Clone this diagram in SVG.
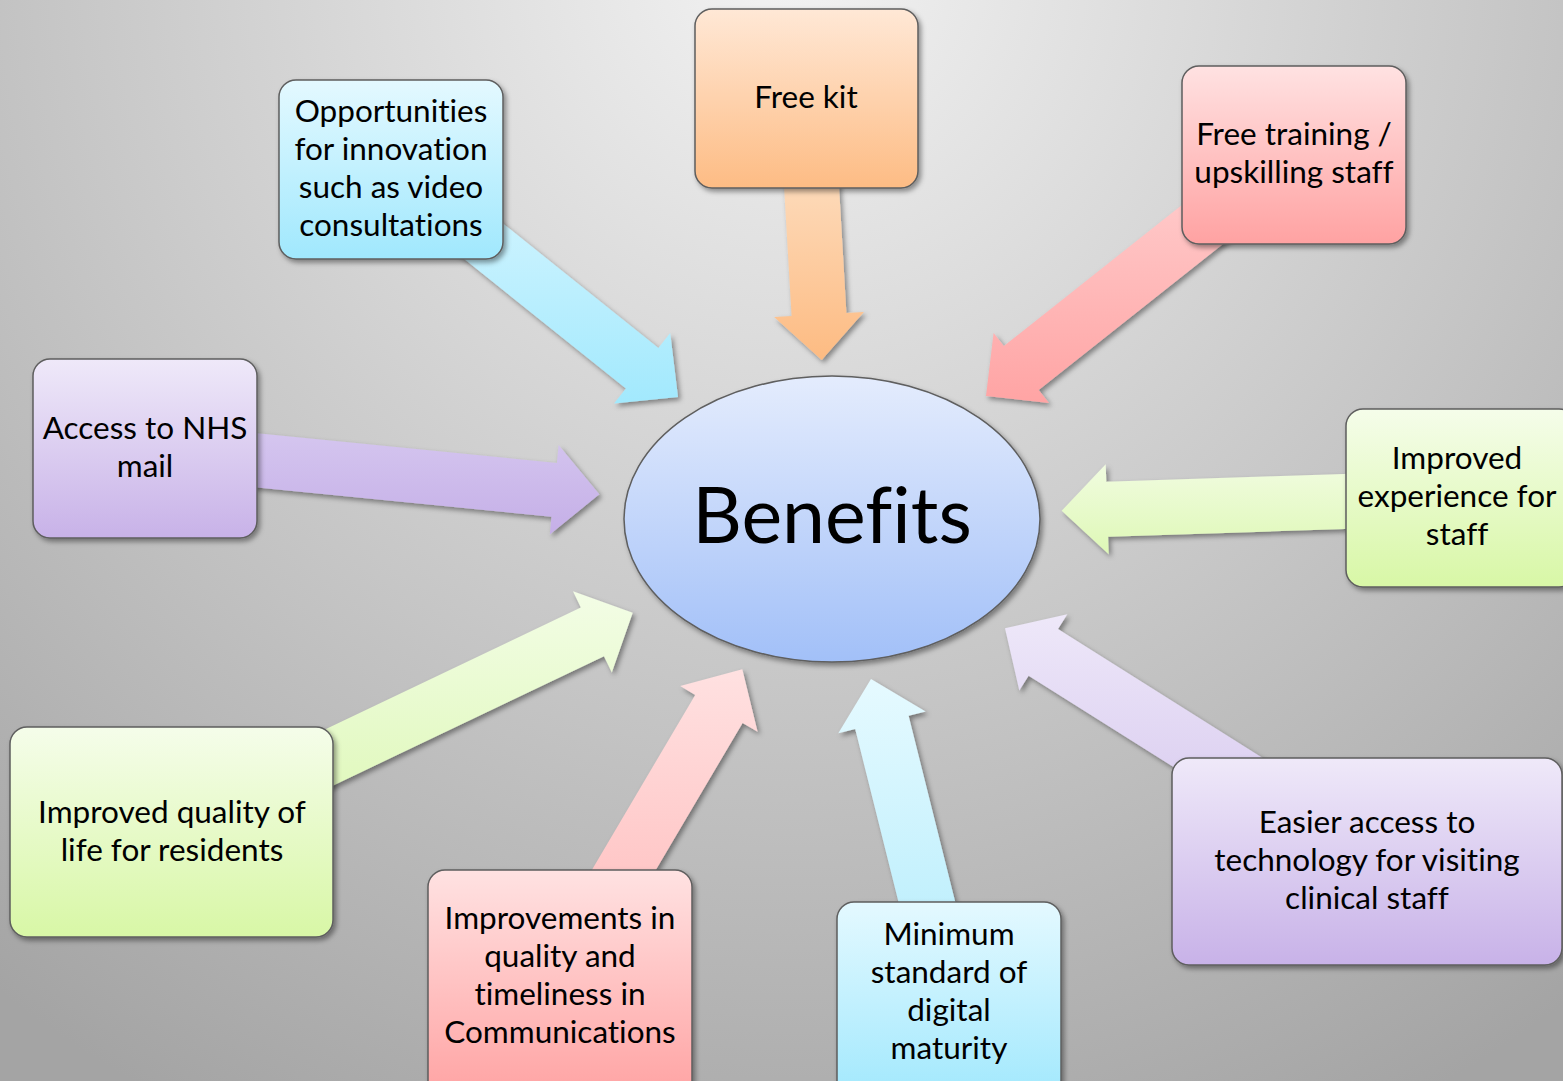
<svg xmlns="http://www.w3.org/2000/svg" width="1563" height="1081" viewBox="0 0 1563 1081">
<defs>
<radialGradient id="bg" gradientUnits="userSpaceOnUse" cx="790" cy="-40" r="1300">
<stop offset="0" stop-color="#f3f3f3"/><stop offset="1" stop-color="#a4a4a4"/>
</radialGradient>
<linearGradient id="gCyan" x1="0" y1="0" x2="0" y2="1"><stop offset="0" stop-color="#e4f9ff"/><stop offset="1" stop-color="#a0e8fd"/></linearGradient>
<linearGradient id="gOrange" x1="0" y1="0" x2="0" y2="1"><stop offset="0" stop-color="#ffe8d6"/><stop offset="1" stop-color="#fdbc84"/></linearGradient>
<linearGradient id="gPink" x1="0" y1="0" x2="0" y2="1"><stop offset="0" stop-color="#ffe2e2"/><stop offset="1" stop-color="#ffa2a2"/></linearGradient>
<linearGradient id="gPurple" x1="0" y1="0" x2="0" y2="1"><stop offset="0" stop-color="#efe9f9"/><stop offset="1" stop-color="#c8b2e8"/></linearGradient>
<linearGradient id="gGreen" x1="0" y1="0" x2="0" y2="1"><stop offset="0" stop-color="#f5fdea"/><stop offset="1" stop-color="#d8f7a6"/></linearGradient>
<linearGradient id="gBlue" x1="0" y1="0" x2="0" y2="1"><stop offset="0" stop-color="#e4ecfd"/><stop offset="1" stop-color="#a2c0f8"/></linearGradient>
<linearGradient id="aA" x1="0" y1="0" x2="0" y2="1"><stop offset="0" stop-color="#d4f5ff"/><stop offset="1" stop-color="#a2e9fd"/></linearGradient>
<linearGradient id="aB" x1="0" y1="0" x2="0" y2="1"><stop offset="0" stop-color="#fde0c4"/><stop offset="1" stop-color="#fdbb82"/></linearGradient>
<linearGradient id="aC" x1="0" y1="0" x2="0" y2="1"><stop offset="0" stop-color="#ffd4d4"/><stop offset="1" stop-color="#ffa4a4"/></linearGradient>
<linearGradient id="aD" x1="0" y1="0" x2="0" y2="1"><stop offset="0" stop-color="#d6c8f0"/><stop offset="1" stop-color="#c5afe7"/></linearGradient>
<linearGradient id="aE" x1="0" y1="0" x2="0" y2="1"><stop offset="0" stop-color="#f1fce0"/><stop offset="1" stop-color="#def8b6"/></linearGradient>
<linearGradient id="aF" x1="0" y1="0" x2="0" y2="1"><stop offset="0" stop-color="#f3fde6"/><stop offset="1" stop-color="#def8b8"/></linearGradient>
<linearGradient id="aG" x1="0" y1="0" x2="0" y2="1"><stop offset="0" stop-color="#ffe1e1"/><stop offset="1" stop-color="#ffbcbc"/></linearGradient>
<linearGradient id="aH" x1="0" y1="0" x2="0" y2="1"><stop offset="0" stop-color="#e6faff"/><stop offset="1" stop-color="#b6edfc"/></linearGradient>
<linearGradient id="aI" x1="0" y1="0" x2="0" y2="1"><stop offset="0" stop-color="#eee8f9"/><stop offset="1" stop-color="#d8caef"/></linearGradient>
<filter id="sh" x="-20%" y="-20%" width="140%" height="140%">
<feDropShadow dx="2.5" dy="3" stdDeviation="2.5" flood-color="#000" flood-opacity="0.4"/>
</filter>
</defs>
<style>
.box{stroke:#5e5e5e;stroke-width:1.5;filter:url(#sh)}
.arr{filter:url(#sh)}
.t{font-family:Lato,"Open Sans","Liberation Sans",sans-serif;font-size:31.5px;fill:#000;text-anchor:middle;font-variant-ligatures:none;font-feature-settings:"liga" 0,"clig" 0}
.big{font-family:Lato,"Open Sans","Liberation Sans",sans-serif;font-size:77px;fill:#000;text-anchor:middle;font-variant-ligatures:none;font-feature-settings:"liga" 0,"clig" 0}
</style>
<rect width="1563" height="1081" fill="url(#bg)"/>
<g id="connectors">
<polygon class="arr" fill="url(#aA)" points="678,397 670.2,333.1 658.4,348.0 455.6,185.5 423.1,226.0 625.9,388.5 614.0,403.4"/>
<polygon class="arr" fill="url(#aB)" points="821.7,360 863.9,311.9 846.4,312.9 836.8,148.4 782.0,151.6 791.6,316.1 774.1,317.1"/>
<polygon class="arr" fill="url(#aC)" points="986,396 993.6,333.0 1003.9,346.0 1266.5,138.0 1301.3,182.0 1038.7,390.0 1049.0,403.0"/>
<polygon class="arr" fill="url(#aD)" points="599.3,494.3 558.6,445.0 556.9,462.9 149.3,422.6 143.9,476.4 551.5,516.7 549.8,534.6"/>
<polygon class="arr" fill="url(#aE)" points="1061.7,510.7 1105.7,464.2 1106.3,481.7 1460.6,470.2 1462.4,525.2 1108.1,536.7 1108.7,554.2"/>
<polygon class="arr" fill="url(#aF)" points="632.7,612.7 573.0,591.3 580.8,607.5 242.0,769.1 265.2,817.9 604.0,656.3 611.8,672.5"/>
<polygon class="arr" fill="url(#aG)" points="742.3,669.3 680.2,686.0 695.2,694.9 556.0,930.8 603.4,958.8 742.6,722.9 757.6,731.8"/>
<polygon class="arr" fill="url(#aH)" points="871,679 838.3,733.3 855.2,729.1 917.2,976.7 970.6,963.3 908.6,715.7 925.6,711.5"/>
<polygon class="arr" fill="url(#aI)" points="1005,628.3 1019.3,690.5 1028.6,675.7 1269.5,827.5 1298.9,780.9 1058.0,629.1 1067.3,614.3"/>
</g>
<g id="benefits">
<ellipse class="box" cx="832" cy="519" rx="208" ry="143" fill="url(#gBlue)"/>
<text class="big" x="832" y="543">Benefits</text>
</g>
<g id="opportunities">
<rect class="box" x="279" y="80" width="224" height="179" rx="17" fill="url(#gCyan)"/>
<text class="t" x="391" y="122">Opportunities</text>
<text class="t" x="391" y="160">for innovation</text>
<text class="t" x="391" y="198">such as video</text>
<text class="t" x="391" y="236">consultations</text>
</g>
<g id="free-kit">
<rect class="box" x="695" y="9" width="223" height="179" rx="17" fill="url(#gOrange)"/>
<text class="t" x="806" y="108">Free kit</text>
</g>
<g id="free-training">
<rect class="box" x="1182" y="66" width="224" height="178" rx="17" fill="url(#gPink)"/>
<text class="t" x="1294" y="145">Free training /</text>
<text class="t" x="1294" y="183">upskilling staff</text>
</g>
<g id="nhs-mail">
<rect class="box" x="33" y="359" width="224" height="179" rx="17" fill="url(#gPurple)"/>
<text class="t" x="145" y="439">Access to NHS</text>
<text class="t" x="145" y="477">mail</text>
</g>
<g id="staff-experience">
<rect class="box" x="1346" y="409" width="230" height="178" rx="17" fill="url(#gGreen)"/>
<text class="t" x="1457" y="469">Improved</text>
<text class="t" x="1457" y="507">experience for</text>
<text class="t" x="1457" y="545">staff</text>
</g>
<g id="quality-of-life">
<rect class="box" x="10" y="727" width="323" height="210" rx="17" fill="url(#gGreen)"/>
<text class="t" x="172" y="823">Improved quality of</text>
<text class="t" x="172" y="861">life for residents</text>
</g>
<g id="communications">
<rect class="box" x="428" y="870" width="264" height="230" rx="17" fill="url(#gPink)"/>
<text class="t" x="560" y="929">Improvements in</text>
<text class="t" x="560" y="967">quality and</text>
<text class="t" x="560" y="1005">timeliness in</text>
<text class="t" x="560" y="1043">Communications</text>
</g>
<g id="digital-maturity">
<rect class="box" x="837" y="902" width="224" height="200" rx="17" fill="url(#gCyan)"/>
<text class="t" x="949" y="945">Minimum</text>
<text class="t" x="949" y="983">standard of</text>
<text class="t" x="949" y="1021">digital</text>
<text class="t" x="949" y="1059">maturity</text>
</g>
<g id="clinical-staff">
<rect class="box" x="1172" y="758" width="390" height="207" rx="17" fill="url(#gPurple)"/>
<text class="t" x="1367" y="833">Easier access to</text>
<text class="t" x="1367" y="871">technology for visiting</text>
<text class="t" x="1367" y="909">clinical staff</text>
</g>
</svg>
